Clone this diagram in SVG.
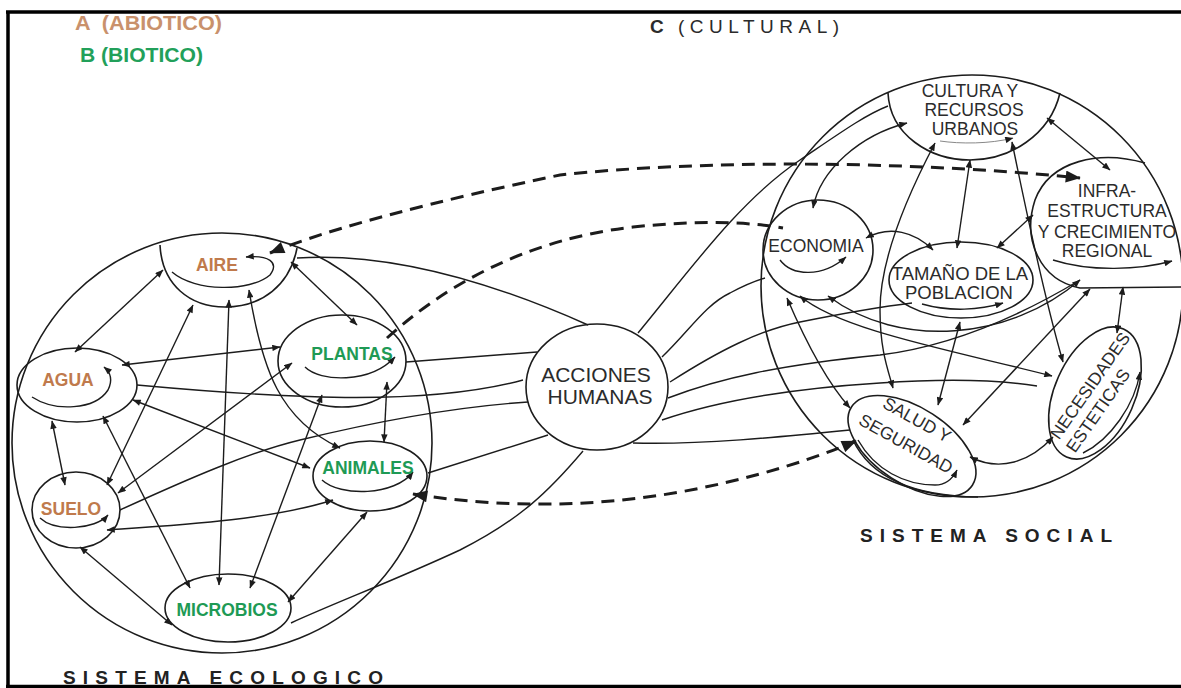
<svg xmlns="http://www.w3.org/2000/svg" width="1181" height="688" viewBox="0 0 1181 688">
<defs>
<marker id="ah" viewBox="0 0 10 8" refX="9.5" refY="4" markerWidth="9" markerHeight="6.5" markerUnits="userSpaceOnUse" orient="auto-start-reverse"><path d="M0,0L10,4L0,8z" fill="#1c1c1c"/></marker>
<marker id="dh" viewBox="0 0 10 8" refX="9.5" refY="4" markerWidth="17" markerHeight="12" markerUnits="userSpaceOnUse" orient="auto-start-reverse"><path d="M0,0L10,4L0,8z" fill="#1c1c1c"/></marker>
</defs>
<style>
.n{fill:none;stroke:#1c1c1c;stroke-width:1.6}
.c{fill:none;stroke:#1c1c1c;stroke-width:1.4}
.b{marker-start:url(#ah);marker-end:url(#ah)}
.e{marker-end:url(#ah)}
.d{fill:none;stroke:#1c1c1c;stroke-width:3;stroke-dasharray:13 8}
.db{marker-start:url(#dh);marker-end:url(#dh)}
.lb{font-family:"Liberation Sans",Arial,sans-serif;font-weight:bold;font-size:17.5px;text-anchor:middle}
.br{fill:#c07a4c}
.gr{fill:#1e9a55}
.s{font-family:"Liberation Sans",Arial,sans-serif;font-size:17.5px;fill:#2b2b2b;text-anchor:middle}
.big{font-size:21px}
.tm{font-size:18.5px}
.t{font-family:"Liberation Sans",Arial,sans-serif;font-weight:bold;font-size:19px;fill:#222}
</style>
<rect width="1181" height="688" fill="#fff"/>
<path d="M6,12H1181M8,12V688M6,686.5H1181" stroke="#000" stroke-width="3.5" fill="none"/>

<g id="legend">
<text x="75" y="30" xml:space="preserve" font-family="Liberation Sans, Arial, sans-serif" font-weight="bold" font-size="20" fill="#c9916c" textLength="147" lengthAdjust="spacingAndGlyphs">A  (ABIOTICO)</text>
<text x="80" y="62" font-family="Liberation Sans, Arial, sans-serif" font-weight="bold" font-size="20" fill="#22a05a" textLength="123" lengthAdjust="spacingAndGlyphs">B (BIOTICO)</text>
<text x="650" y="33" font-family="Liberation Sans, Arial, sans-serif" font-size="19" fill="#2b2b2b"><tspan font-weight="bold">C</tspan><tspan x="678" letter-spacing="5.5">(CULTURAL)</tspan></text>
</g>

<g id="sistema-ecologico">
<circle cx="222" cy="443" r="210" class="n"/>
<text x="63" y="684" class="t" textLength="320" lengthAdjust="spacing">SISTEMA ECOLOGICO</text>
</g>
<g id="sistema-social">
<circle cx="972" cy="286" r="211" class="n"/>
<text x="860" y="542" class="t" textLength="252" lengthAdjust="spacing">SISTEMA SOCIAL</text>
</g>

<g id="aire">
<path class="n" d="M160,245C162,285 190,307 225,307C262,307 290,285 297,248"/>
<path class="c e" d="M172,272C195,292 250,292 270,275C280,262 268,255 246,257"/>
<text x="217" y="271" class="lb br">AIRE</text>
</g>
<g id="agua">
<ellipse cx="77" cy="385" rx="60" ry="37" class="n"/>
<path class="c e" d="M32,397C55,412 95,410 108,390C113,380 110,372 104,367"/>
<text x="68" y="386" class="lb br">AGUA</text>
</g>
<g id="suelo">
<ellipse cx="76" cy="510" rx="44" ry="38" class="n"/>
<path class="c e" d="M40,518C55,532 95,530 108,515"/>
<text x="71" y="515" class="lb br">SUELO</text>
</g>
<g id="plantas">
<ellipse cx="342" cy="361" rx="64" ry="46" class="n"/>
<path class="c e" d="M305,367C320,382 370,384 395,357"/>
<text x="352" y="360" class="lb gr">PLANTAS</text>
</g>
<g id="animales">
<ellipse cx="370" cy="476" rx="57" ry="35" class="n"/>
<path class="c e" d="M322,480C340,497 395,496 413,472"/>
<text x="368" y="474" class="lb gr">ANIMALES</text>
</g>
<g id="microbios">
<ellipse cx="228" cy="608" rx="63" ry="34" class="n"/>
<text x="227" y="616" class="lb gr">MICROBIOS</text>
</g>

<g id="acciones-humanas">
<ellipse cx="597" cy="387" rx="71" ry="63" class="n"/>
<text x="596" y="382" class="s big">ACCIONES</text>
<text x="600" y="404" class="s big">HUMANAS</text>
</g>

<g id="cultura">
<path class="n" d="M888,93C890,135 930,160 970,160C1010,160 1050,135 1060,93"/>
<path class="e" fill="none" stroke="#888" stroke-width="1" d="M940,141C960,144 990,144 1013,138"/>
<text x="970" y="97" class="s">CULTURA Y</text>
<text x="974" y="116" class="s">RECURSOS</text>
<text x="975" y="135" class="s">URBANOS</text>
</g>
<g id="infraestructura">
<path class="n" d="M1145,163C1100,150 1050,160 1035,200C1022,240 1040,280 1080,288L1182,287"/>
<path class="c e" d="M1053,260C1090,272 1140,270 1172,261"/>
<text x="1107" y="197" class="s">INFRA-</text>
<text x="1107" y="217" class="s">ESTRUCTURA</text>
<text x="1107" y="238" class="s">Y CRECIMIENTO</text>
<text x="1107" y="257" class="s">REGIONAL</text>
</g>
<g id="economia">
<ellipse cx="818" cy="250" rx="55" ry="50" class="n"/>
<path class="c e" d="M780,260C792,276 822,278 846,257"/>
<text x="816" y="252" class="s">ECONOMIA</text>
</g>
<g id="tamano-poblacion">
<ellipse cx="961" cy="280" rx="72" ry="38" class="n"/>
<path class="c e" d="M922,304C950,312 980,310 1003,303"/>
<text x="960" y="280" class="s tm">TAMAÑO DE LA</text>
<text x="959" y="299" class="s tm">POBLACION</text>
</g>
<g id="necesidades-esteticas">
<ellipse cx="1095" cy="393" rx="70" ry="40" transform="rotate(-66 1095 393)" class="n"/>
<path class="c e" d="M1083,453C1110,440 1135,405 1140,372"/>
<text transform="translate(1095,389) rotate(-55)" class="s">NECESIDADES</text>
<text transform="translate(1103,414) rotate(-55)" class="s">ESTETICAS</text>
</g>
<g id="salud-seguridad">
<ellipse cx="912" cy="446" rx="72" ry="38" transform="rotate(33 912 446)" class="n"/>
<path class="n" d="M853,440C870,476 910,496 978,497"/>
<path class="c e" d="M858,440C875,470 905,485 935,485C945,485 952,480 957,470"/>
<text transform="translate(914,425) rotate(29)" class="s">SALUD Y</text>
<text transform="translate(903,449) rotate(29)" class="s">SEGURIDAD</text>
</g>

<g id="connectors">
<path class="c b" d="M163,270L75,352"/>
<path class="c b" d="M193,305L107,485"/>
<path class="c b" d="M52,421L65,485"/>
<path class="c b" d="M103,416L190,588"/>
<path class="c b" d="M229,300L219,585"/>
<path class="c b" d="M249,290C262,370 280,420 340,448"/>
<path class="c b" d="M291,262L357,325"/>
<path class="c b" d="M122,365L280,347"/>
<path class="c b" d="M118,493L292,363"/>
<path class="c b" d="M322,395L250,588"/>
<path class="c b" d="M387,382L384,442"/>
<path class="c b" d="M133,400L310,468"/>
<path class="c b" d="M107,530C180,525 270,520 333,500"/>
<path class="c b" d="M367,512L288,602"/>
<path class="c b" d="M80,547L172,625"/>
<path class="c" d="M297,258Q420,250 588,325"/>
<path class="c" d="M406,362L537,352"/>
<path class="c" d="M137,385C300,400 430,405 523,380"/>
<path class="c" d="M120,510C190,478 250,452 300,440C370,423 450,407 528,402"/>
<path class="c" d="M428,473L548,435"/>
<path class="c" d="M583,451C550,490 520,520 460,550C400,578 330,605 291,623"/>
<path class="c" d="M638,333C690,270 740,200 800,160C840,133 865,115 888,106"/>
<path class="c" d="M662,357C690,330 705,305 730,293C745,285 755,281 765,278"/>
<path class="c" d="M670,382C720,350 760,330 800,322S870,308 912,303"/>
<path class="c" d="M668,398C720,378 780,365 880,355C960,345 1030,310 1080,280"/>
<path class="c" d="M662,420C720,400 800,388 880,383C950,378 1000,380 1037,386"/>
<path class="c" d="M633,443C700,445 780,437 850,430"/>
<path class="c b" d="M813,208C820,170 860,135 907,123"/>
<path class="c b" d="M970,160L957,248"/>
<path class="c b" d="M1047,118L1110,170"/>
<path class="c b" d="M935,143C905,200 880,260 880,310C880,350 888,370 893,388"/>
<path class="c b" d="M1012,142C1030,230 1045,300 1063,362"/>
<path class="c b" d="M866,238C890,225 915,232 933,250"/>
<path class="c b" d="M997,248L1033,215"/>
<path class="c b" d="M787,298C805,340 825,380 850,408"/>
<path class="c b" d="M800,296C840,330 950,350 1052,376"/>
<path class="c b" d="M828,296C900,350 1010,340 1080,280"/>
<path class="c b" d="M960,322L938,405"/>
<path class="c b" d="M1090,289L963,425"/>
<path class="c b" d="M1123,287L1117,333"/>
<path class="c b" d="M970,457C1000,472 1030,462 1053,437"/>
<path class="d db" d="M270,253C330,228 440,200 560,175C700,160 900,160 1080,178"/>
<path class="d" d="M387,338C440,290 520,240 633,227C700,220 750,222 783,228"/>
<path class="d db" d="M413,494C480,505 560,508 640,498C720,488 800,465 856,441"/>
</g>
</svg>
